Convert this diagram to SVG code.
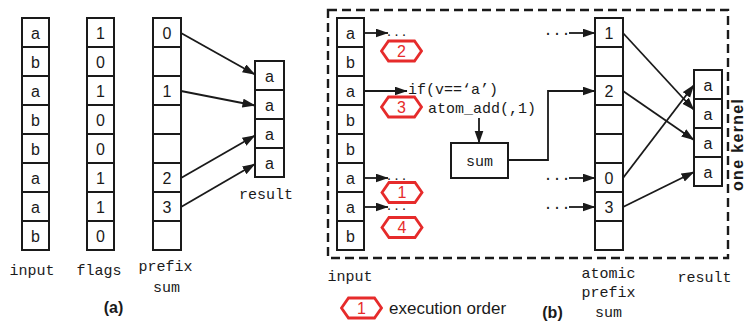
<svg xmlns="http://www.w3.org/2000/svg" width="746" height="322" viewBox="0 0 746 322">
  <style>
    .cell { fill: #fff; stroke: #1a1a1a; stroke-width: 2; }
    .val { font-family: "Liberation Sans", Arial, sans-serif; font-size: 16px; fill: #1a1a1a; text-anchor: middle; }
    .mono { font-family: "Liberation Mono", "DejaVu Sans Mono", monospace; font-size: 15px; fill: #1a1a1a; }
    .mid { text-anchor: middle; }
    .cap { font-family: "Liberation Sans", Arial, sans-serif; font-weight: bold; font-size: 16px; fill: #1a1a1a; text-anchor: middle; }
    .conn { fill: none; stroke: #1a1a1a; stroke-width: 1.8; marker-end: url(#arrow); }
    .hex { fill: #fff; stroke: #e62b2b; stroke-width: 2.8; stroke-linejoin: miter; }
    .hexnum { font-family: "Liberation Sans", Arial, sans-serif; font-size: 16px; fill: #e62b2b; text-anchor: middle; }
    .frame { fill: none; stroke: #1a1a1a; stroke-width: 2.4; stroke-dasharray: 9 5; }
    .dots { font-family: "Liberation Mono", "DejaVu Sans Mono", monospace; font-size: 10px; font-weight: bold; letter-spacing: 1.5px; fill: #1a1a1a; }
  </style>
  <defs>
    <marker id="arrow" markerUnits="userSpaceOnUse" markerWidth="14" markerHeight="10" refX="12.5" refY="4.5" orient="auto">
      <path d="M0,0 L13,4.5 L0,9 z" fill="#1a1a1a"/>
    </marker>
    <path id="hexagon" class="hex" d="M-20,0 L-13,-10 L13,-10 L20,0 L13,10 L-13,10 Z"/>
  </defs>

  <rect width="746" height="322" fill="#fff"/>

  <!-- ===== (a) flag + prefix-sum compaction ===== -->
  <g id="a-input">
    <rect class="cell" x="22" y="18" width="27" height="29"/>
    <rect class="cell" x="22" y="47" width="27" height="29"/>
    <rect class="cell" x="22" y="76" width="27" height="29"/>
    <rect class="cell" x="22" y="105" width="27" height="29"/>
    <rect class="cell" x="22" y="134" width="27" height="29"/>
    <rect class="cell" x="22" y="163" width="27" height="29"/>
    <rect class="cell" x="22" y="192" width="27" height="29"/>
    <rect class="cell" x="22" y="221" width="27" height="29"/>
    <text class="val" x="35.5" y="38.5">a</text>
    <text class="val" x="35.5" y="67.5">b</text>
    <text class="val" x="35.5" y="96.5">a</text>
    <text class="val" x="35.5" y="125.5">b</text>
    <text class="val" x="35.5" y="154.5">b</text>
    <text class="val" x="35.5" y="183.5">a</text>
    <text class="val" x="35.5" y="212.5">a</text>
    <text class="val" x="35.5" y="241.5">b</text>
    <text class="mono mid" x="32" y="275">input</text>
  </g>

  <g id="a-flags">
    <rect class="cell" x="87" y="18" width="27" height="29"/>
    <rect class="cell" x="87" y="47" width="27" height="29"/>
    <rect class="cell" x="87" y="76" width="27" height="29"/>
    <rect class="cell" x="87" y="105" width="27" height="29"/>
    <rect class="cell" x="87" y="134" width="27" height="29"/>
    <rect class="cell" x="87" y="163" width="27" height="29"/>
    <rect class="cell" x="87" y="192" width="27" height="29"/>
    <rect class="cell" x="87" y="221" width="27" height="29"/>
    <text class="val" x="100.5" y="38.5">1</text>
    <text class="val" x="100.5" y="67.5">0</text>
    <text class="val" x="100.5" y="96.5">1</text>
    <text class="val" x="100.5" y="125.5">0</text>
    <text class="val" x="100.5" y="154.5">0</text>
    <text class="val" x="100.5" y="183.5">1</text>
    <text class="val" x="100.5" y="212.5">1</text>
    <text class="val" x="100.5" y="241.5">0</text>
    <text class="mono mid" x="99" y="275">flags</text>
  </g>

  <g id="a-prefix-sum">
    <rect class="cell" x="153" y="18" width="28" height="29"/>
    <rect class="cell" x="153" y="47" width="28" height="29"/>
    <rect class="cell" x="153" y="76" width="28" height="29"/>
    <rect class="cell" x="153" y="105" width="28" height="29"/>
    <rect class="cell" x="153" y="134" width="28" height="29"/>
    <rect class="cell" x="153" y="163" width="28" height="29"/>
    <rect class="cell" x="153" y="192" width="28" height="29"/>
    <rect class="cell" x="153" y="221" width="28" height="29"/>
    <text class="val" x="167" y="38.5">0</text>
    <text class="val" x="167" y="96.5">1</text>
    <text class="val" x="167" y="183.5">2</text>
    <text class="val" x="167" y="212.5">3</text>
    <text class="mono mid" x="165.5" y="271">prefix</text>
    <text class="mono mid" x="166.5" y="292">sum</text>
  </g>

  <g id="a-result">
    <rect class="cell" x="255" y="61" width="29" height="29"/>
    <rect class="cell" x="255" y="90" width="29" height="29"/>
    <rect class="cell" x="255" y="119" width="29" height="29"/>
    <rect class="cell" x="255" y="148" width="29" height="29"/>
    <text class="val" x="269.5" y="81.5">a</text>
    <text class="val" x="269.5" y="110.5">a</text>
    <text class="val" x="269.5" y="139.5">a</text>
    <text class="val" x="269.5" y="168.5">a</text>
    <text class="mono mid" x="266" y="199">result</text>
  </g>

  <g id="a-connectors">
    <path class="conn" d="M181,33 L255,74.5"/>
    <path class="conn" d="M181,91 L255,105.5"/>
    <path class="conn" d="M181,178 L255,135.5"/>
    <path class="conn" d="M181,207 L255,164"/>
  </g>

  <text class="cap" x="113.5" y="313">(a)</text>

  <!-- ===== (b) single kernel with atomic counter ===== -->
  <rect id="one-kernel-frame" class="frame" x="328" y="10" width="400" height="248"/>
  <text class="cap" font-size="15" textLength="92" transform="translate(742.5,145) rotate(-90)">one kernel</text>

  <g id="b-input">
    <rect class="cell" x="337" y="18" width="27" height="29"/>
    <rect class="cell" x="337" y="47" width="27" height="29"/>
    <rect class="cell" x="337" y="76" width="27" height="29"/>
    <rect class="cell" x="337" y="105" width="27" height="29"/>
    <rect class="cell" x="337" y="134" width="27" height="29"/>
    <rect class="cell" x="337" y="163" width="27" height="29"/>
    <rect class="cell" x="337" y="192" width="27" height="29"/>
    <rect class="cell" x="337" y="221" width="27" height="29"/>
    <text class="val" x="350.5" y="38.5">a</text>
    <text class="val" x="350.5" y="67.5">b</text>
    <text class="val" x="350.5" y="96.5">a</text>
    <text class="val" x="350.5" y="125.5">b</text>
    <text class="val" x="350.5" y="154.5">b</text>
    <text class="val" x="350.5" y="183.5">a</text>
    <text class="val" x="350.5" y="212.5">a</text>
    <text class="val" x="350.5" y="241.5">b</text>
    <text class="mono mid" x="350" y="281">input</text>
  </g>

  <g id="b-sum">
    <rect class="cell" x="451" y="143" width="57" height="35"/>
    <text class="mono mid" x="479.5" y="166">sum</text>
  </g>

  <g id="b-atomic-prefix-sum">
    <rect class="cell" x="595" y="18" width="28" height="29"/>
    <rect class="cell" x="595" y="47" width="28" height="29"/>
    <rect class="cell" x="595" y="76" width="28" height="29"/>
    <rect class="cell" x="595" y="105" width="28" height="29"/>
    <rect class="cell" x="595" y="134" width="28" height="29"/>
    <rect class="cell" x="595" y="163" width="28" height="29"/>
    <rect class="cell" x="595" y="192" width="28" height="29"/>
    <rect class="cell" x="595" y="221" width="28" height="29"/>
    <text class="val" x="609" y="38.5">1</text>
    <text class="val" x="609" y="96.5">2</text>
    <text class="val" x="609" y="183.5">0</text>
    <text class="val" x="609" y="212.5">3</text>
    <text class="mono mid" x="608.5" y="278">atomic</text>
    <text class="mono mid" x="608.5" y="297">prefix</text>
    <text class="mono mid" x="608.5" y="317">sum</text>
  </g>

  <g id="b-result">
    <rect class="cell" x="694" y="70" width="28" height="29"/>
    <rect class="cell" x="694" y="99" width="28" height="29"/>
    <rect class="cell" x="694" y="128" width="28" height="29"/>
    <rect class="cell" x="694" y="157" width="28" height="29"/>
    <text class="val" x="708" y="90.5">a</text>
    <text class="val" x="708" y="119.5">a</text>
    <text class="val" x="708" y="148.5">a</text>
    <text class="val" x="708" y="177.5">a</text>
    <text class="mono mid" x="704.5" y="282">result</text>
  </g>

  <g id="b-thread-labels">
    <text class="mono" x="408" y="94">if(v==‘a’)</text>
    <text class="mono" x="428" y="113">atom_add(,1)</text>
    <text class="dots" x="386" y="35.5">...</text>
    <text class="dots" x="386" y="180">...</text>
    <text class="dots" x="386" y="209.5">...</text>
    <text class="mono" x="543.5" y="35">...</text>
    <text class="mono" x="543.5" y="180">...</text>
    <text class="mono" x="543.5" y="209">...</text>
  </g>

  <g id="b-connectors">
    <path class="conn" d="M364,33 L388,33"/>
    <path class="conn" d="M364,91 L407,91"/>
    <path class="conn" d="M364,178 L388,178"/>
    <path class="conn" d="M364,207 L388,207"/>
    <path class="conn" d="M479,118 L479,143"/>
    <path class="conn" d="M508,160 L548,160 L548,91 L595,91"/>
    <path class="conn" d="M569,33 L595,33"/>
    <path class="conn" d="M569,178 L595,178"/>
    <path class="conn" d="M569,207 L595,207"/>
    <path class="conn" d="M623,33 L694,110"/>
    <path class="conn" d="M623,91 L694,140"/>
    <path class="conn" d="M623,178 L694,85"/>
    <path class="conn" d="M623,207 L694,172"/>
  </g>

  <g id="execution-order">
    <use href="#hexagon" x="401.5" y="51"/>
    <text class="hexnum" x="401.5" y="57">2</text>
    <use href="#hexagon" x="401.5" y="107"/>
    <text class="hexnum" x="401.5" y="113">3</text>
    <use href="#hexagon" x="402" y="192.5"/>
    <text class="hexnum" x="402" y="198">1</text>
    <use href="#hexagon" x="402" y="227.5"/>
    <text class="hexnum" x="402" y="233">4</text>
  </g>

  <g id="legend">
    <use href="#hexagon" x="361.5" y="308"/>
    <text class="hexnum" x="361.5" y="314">1</text>
    <text font-family="Liberation Sans, Arial, sans-serif" font-size="17" fill="#1a1a1a" x="389" y="314">execution order</text>
  </g>

  <text class="cap" x="552.5" y="318">(b)</text>
</svg>
